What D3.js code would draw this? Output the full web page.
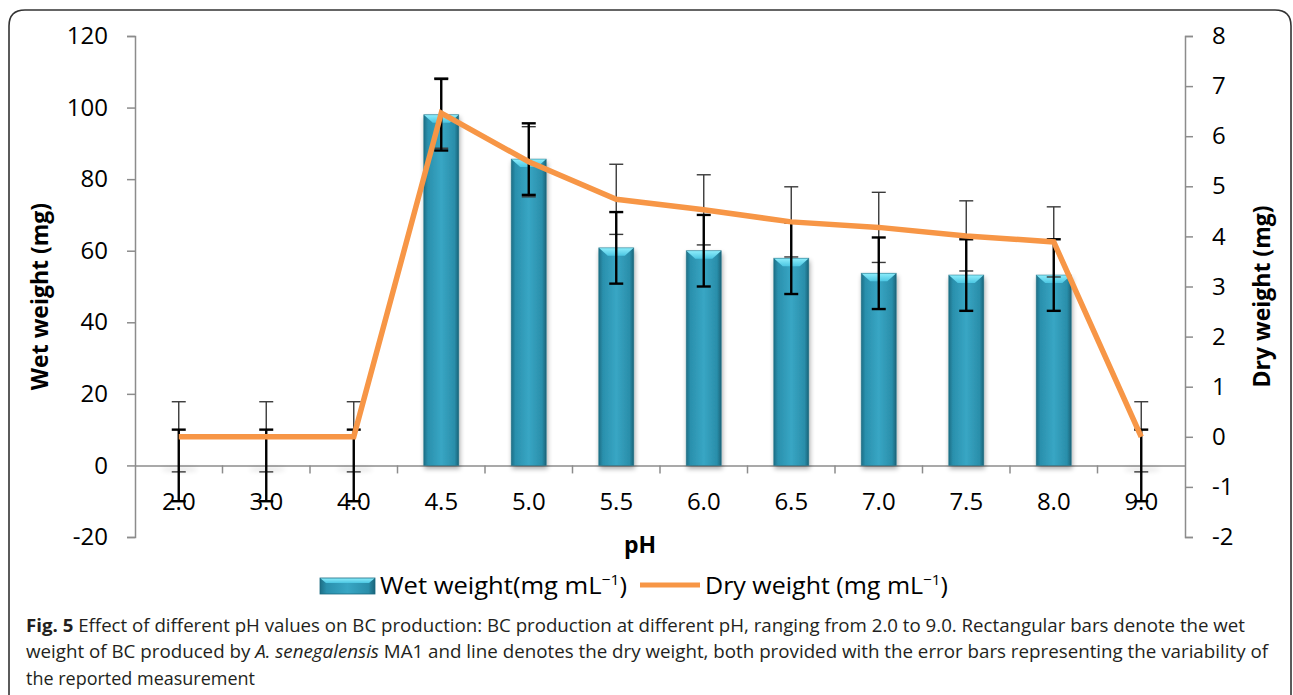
<!DOCTYPE html>
<html>
<head>
<meta charset="utf-8">
<script src="https://cdn.jsdelivr.net/npm/d3@7"></script>
<style>
  html, body { margin: 0; padding: 0; background: #fff; }
  svg { display: block; }
  text { font-family: "Open Sans", "Noto Sans", sans-serif; }
</style>
</head>
<body>
<svg id="chart" width="1293" height="695"></svg>
<script>
// ---- data ----
const categories = ["2.0", "3.0", "4.0", "4.5", "5.0", "5.5", "6.0", "6.5", "7.0", "7.5", "8.0", "9.0"];
const wetWeight = [0, 0, 0, 98, 85.6, 60.8, 60.0, 57.9, 53.7, 53.2, 53.2, 0];
const wetError = [10, 10, 10, 10, 10, 10, 10, 10, 10, 10, 10, 10];
const dryWeight = [0, 0, 0, 6.46, 5.49, 4.74, 4.53, 4.29, 4.18, 4.01, 3.89, 0];
const dryError = [0.7, 0.7, 0.7, 0.7, 0.7, 0.7, 0.7, 0.7, 0.7, 0.7, 0.7, 0.7];
const leftTicks = [-20, 0, 20, 40, 60, 80, 100, 120];
const rightTicks = [-2, -1, 0, 1, 2, 3, 4, 5, 6, 7, 8];

const svg = d3.select("#chart");
const axisColor = "#8c8c8c";
const fmt = d => String(d); // plain hyphen-minus like the reference

// ---- frame ----
const fx0 = 9, fy0 = 10, fx1 = 1291, fyb = 695, r = 16;
svg.append("path")
  .attr("d", `M${fx0},${fyb} L${fx0},${fy0 + r} Q${fx0},${fy0} ${fx0 + r},${fy0} L${fx1 - r},${fy0} Q${fx1},${fy0} ${fx1},${fy0 + r} L${fx1},${fyb}`)
  .attr("fill", "none").attr("stroke", "#333").attr("stroke-width", 1.6);

// ---- scales ----
const plotL = 135, plotR = 1185, plotT = 36, plotB = 537;
const x = d3.scaleBand().domain(categories).range([plotL, plotR]).paddingInner(0).paddingOuter(0);
const yL = d3.scaleLinear().domain([-20, 120]).range([plotB, plotT]);
const yR = d3.scaleLinear().domain([-2, 8]).range([plotB, plotT]);

// ---- defs ----
const defs = svg.append("defs");
const grad = defs.append("linearGradient").attr("id", "barGrad").attr("x1", "0").attr("x2", "1").attr("y1", "0").attr("y2", "0");
grad.append("stop").attr("offset", "0%").attr("stop-color", "#1d6f86");
grad.append("stop").attr("offset", "12%").attr("stop-color", "#2a90ad");
grad.append("stop").attr("offset", "50%").attr("stop-color", "#38a6c4");
grad.append("stop").attr("offset", "88%").attr("stop-color", "#2a8eaa");
grad.append("stop").attr("offset", "100%").attr("stop-color", "#1a6479");
const topGrad = defs.append("linearGradient").attr("id", "topGrad").attr("x1", "0").attr("x2", "0").attr("y1", "0").attr("y2", "1");
topGrad.append("stop").attr("offset", "0%").attr("stop-color", "#8eeefc");
topGrad.append("stop").attr("offset", "100%").attr("stop-color", "#4cc6e2");
const sh = defs.append("filter").attr("id", "shadow").attr("x", "-30%").attr("y", "-10%").attr("width", "160%").attr("height", "130%");
sh.append("feGaussianBlur").attr("in", "SourceAlpha").attr("stdDeviation", 2.5).attr("result", "b");
sh.append("feOffset").attr("in", "b").attr("dx", 1).attr("dy", 3).attr("result", "o");
sh.append("feComponentTransfer").attr("in", "o").attr("result", "o2")
  .append("feFuncA").attr("type", "linear").attr("slope", 0.35);
const mg = sh.append("feMerge");
mg.append("feMergeNode").attr("in", "o2");
mg.append("feMergeNode").attr("in", "SourceGraphic");
const blur = defs.append("filter").attr("id", "soft").attr("x", "-50%").attr("y", "-200%").attr("width", "200%").attr("height", "500%");
blur.append("feGaussianBlur").attr("stdDeviation", 2.5);

// ---- axes ----
const xAxisG = svg.append("g").attr("transform", `translate(0,${yL(0)})`)
  .call(d3.axisBottom(x).tickSize(0).tickFormat(""));
xAxisG.select(".domain").attr("stroke", axisColor).attr("stroke-width", 1.5);
const bounds = d3.range(categories.length + 1).map(i => plotL + i * x.bandwidth());
svg.append("g").selectAll("line").data(bounds.slice(1, -1)).join("line")
  .attr("x1", d => d).attr("x2", d => d)
  .attr("y1", yL(0)).attr("y2", yL(0) + 8)
  .attr("stroke", axisColor).attr("stroke-width", 1.5);

const leftAxis = svg.append("g").attr("transform", `translate(${plotL},0)`)
  .call(d3.axisLeft(yL).tickValues(leftTicks).tickSize(8).tickSizeOuter(8).tickPadding(19).tickFormat(fmt));
leftAxis.select(".domain").attr("stroke", axisColor).attr("stroke-width", 1.5);
leftAxis.selectAll(".tick line").attr("stroke", axisColor).attr("stroke-width", 1.5);
leftAxis.selectAll(".tick text").attr("font-size", 24).attr("fill", "#000")
  .style("font-family", "'Open Sans', sans-serif");

const rightAxis = svg.append("g").attr("transform", `translate(${plotR},0)`)
  .call(d3.axisRight(yR).tickValues(rightTicks).tickSize(8).tickSizeOuter(8).tickPadding(19).tickFormat(fmt));
rightAxis.select(".domain").attr("stroke", axisColor).attr("stroke-width", 1.5);
rightAxis.selectAll(".tick line").attr("stroke", axisColor).attr("stroke-width", 1.5);
rightAxis.selectAll(".tick text").attr("font-size", 24).attr("fill", "#000")
  .style("font-family", "'Open Sans', sans-serif");

// ---- bars ----
const barW = 35;
const barsG = svg.append("g");
categories.forEach((c, i) => {
  const cx = x(c) + x.bandwidth() / 2;
  const v = wetWeight[i];
  const y0 = yL(0), y1 = yL(v);
  if (v <= 0) {
    barsG.append("ellipse").attr("cx", cx + 1).attr("cy", y0 + 4).attr("rx", 18).attr("ry", 2)
      .attr("fill", "#000").attr("opacity", 0.12).attr("filter", "url(#soft)");
    return;
  }
  const g = barsG.append("g").attr("filter", "url(#shadow)");
  g.append("rect").attr("x", cx - barW / 2).attr("y", y1).attr("width", barW).attr("height", y0 - y1)
    .attr("fill", "url(#barGrad)");
  g.append("path")
    .attr("d", `M${cx - barW / 2},${y1} L${cx + barW / 2},${y1} L${cx + barW / 2 - 9},${y1 + 8} L${cx - barW / 2 + 9},${y1 + 8} Z`)
    .attr("fill", "url(#topGrad)");
  g.append("rect").attr("x", cx - barW / 2).attr("y", y1).attr("width", barW).attr("height", y0 - y1)
    .attr("fill", "none").attr("stroke", "#1b6a80").attr("stroke-width", 0.8).attr("opacity", 0.6);
});

// ---- dry error bars (thin) ----
const errG = svg.append("g");
categories.forEach((c, i) => {
  const cx = x(c) + x.bandwidth() / 2;
  const t = yR(dryWeight[i] + dryError[i]), b = yR(dryWeight[i] - dryError[i]);
  errG.append("line").attr("x1", cx).attr("x2", cx).attr("y1", t).attr("y2", b).attr("stroke", "#3a3a3a").attr("stroke-width", 1.4);
  [t, b].forEach(yy => errG.append("line").attr("x1", cx - 7).attr("x2", cx + 7).attr("y1", yy).attr("y2", yy)
    .attr("stroke", "#3a3a3a").attr("stroke-width", 1.4));
});

// ---- dry weight line ----
const line = d3.line().x((d, i) => x(categories[i]) + x.bandwidth() / 2).y(d => yR(d));
svg.append("path").datum(dryWeight).attr("d", line)
  .attr("fill", "none").attr("stroke", "#f79646").attr("stroke-width", 5.5).attr("stroke-linejoin", "miter");

// ---- wet error bars (thick) ----
categories.forEach((c, i) => {
  const cx = x(c) + x.bandwidth() / 2;
  const t = yL(wetWeight[i] + wetError[i]), b = yL(wetWeight[i] - wetError[i]);
  errG.append("line").attr("x1", cx).attr("x2", cx).attr("y1", t).attr("y2", b).attr("stroke", "#000").attr("stroke-width", 2.4);
  [t, b].forEach(yy => errG.append("line").attr("x1", cx - 7).attr("x2", cx + 7).attr("y1", yy).attr("y2", yy)
    .attr("stroke", "#000").attr("stroke-width", 2.4));
});

// ---- x tick labels ----
svg.append("g").selectAll("text").data(categories).join("text")
  .attr("x", d => x(d) + x.bandwidth() / 2).attr("y", yL(0) + 45)
  .attr("text-anchor", "middle").attr("font-size", 24).attr("fill", "#000").text(d => d);

// ---- axis titles ----
svg.append("text").attr("transform", `translate(48,${(plotT + plotB) / 2 + 10}) rotate(-90)`)
  .attr("text-anchor", "middle").attr("font-size", 23).attr("font-weight", "bold").text("Wet weight (mg)");
svg.append("text").attr("transform", `translate(1270,${(plotT + plotB) / 2 + 10}) rotate(-90)`)
  .attr("text-anchor", "middle").attr("font-size", 23).attr("font-weight", "bold").text("Dry weight (mg)");
svg.append("text").attr("x", 640).attr("y", 553).attr("text-anchor", "middle")
  .attr("font-size", 23).attr("font-weight", "bold").text("pH");

// ---- legend ----
const lg = svg.append("g");
lg.append("rect").attr("x", 320).attr("y", 578).attr("width", 55).attr("height", 16).attr("fill", "url(#barGrad)");
lg.append("path").attr("d", "M320,578 L375,578 L369,583 L326,583 Z").attr("fill", "url(#topGrad)");
lg.append("rect").attr("x", 320).attr("y", 578).attr("width", 55).attr("height", 16).attr("fill", "none").attr("stroke", "#1b6a80").attr("stroke-width", 0.8);
const t1 = lg.append("text").attr("x", 380).attr("y", 594).attr("font-size", 24.5).attr("fill", "#000")
  .attr("textLength", 247).attr("lengthAdjust", "spacingAndGlyphs");
t1.append("tspan").text("Wet weight(mg mL");
t1.append("tspan").attr("dy", -9).attr("font-size", 15).text("\u22121");
t1.append("tspan").attr("dy", 9).text(")");
lg.append("line").attr("x1", 640).attr("x2", 700).attr("y1", 585).attr("y2", 585).attr("stroke", "#f79646").attr("stroke-width", 5);
const t2 = lg.append("text").attr("x", 705).attr("y", 594).attr("font-size", 24.5).attr("fill", "#000")
  .attr("textLength", 243).attr("lengthAdjust", "spacingAndGlyphs");
t2.append("tspan").text("Dry weight (mg mL");
t2.append("tspan").attr("dy", -9).attr("font-size", 15).text("\u22121");
t2.append("tspan").attr("dy", 9).text(")");

// ---- caption ----
const capColor = "#231f20";
const c1 = svg.append("text").attr("x", 26).attr("y", 632).attr("font-size", 17.5).attr("fill", capColor)
  .attr("textLength", 1219).attr("lengthAdjust", "spacingAndGlyphs");
c1.append("tspan").attr("font-weight", "bold").text("Fig. 5");
c1.append("tspan").text(" Effect of different pH values on BC production: BC production at different pH, ranging from 2.0 to 9.0. Rectangular bars denote the wet");
const c2 = svg.append("text").attr("x", 26).attr("y", 658).attr("font-size", 17.5).attr("fill", capColor)
  .attr("textLength", 1242).attr("lengthAdjust", "spacingAndGlyphs");
c2.append("tspan").text("weight of BC produced by ");
c2.append("tspan").attr("font-style", "italic").text("A. senegalensis");
c2.append("tspan").text(" MA1 and line denotes the dry weight, both provided with the error bars representing the variability of");
svg.append("text").attr("x", 26).attr("y", 685).attr("font-size", 17.5).attr("fill", capColor)
  .attr("textLength", 229).attr("lengthAdjust", "spacingAndGlyphs")
  .text("the reported measurement");
</script>
</body>
</html>
